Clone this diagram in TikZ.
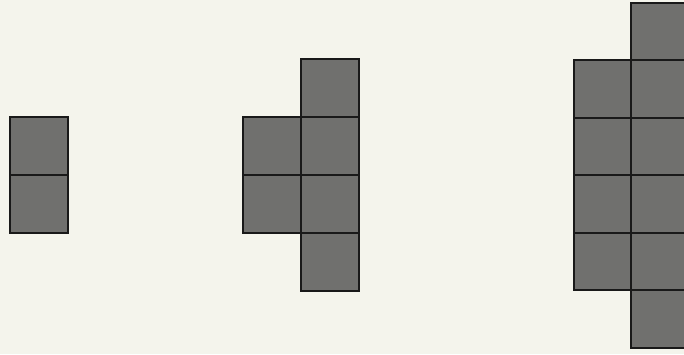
\documentclass[tikz,border=0pt]{standalone}
\begin{document}
\begin{tikzpicture}[x=1pt,y=-1pt,
  tile/.style={fill=tilegray, minimum width=58pt, minimum height=58pt, inner sep=0pt, outer sep=0pt, anchor=north west},
  tilesm/.style={tile, minimum width=57.5pt, minimum height=57.5pt},
  edge/.style={draw=black!90, line width=2pt}]
\definecolor{tilegray}{RGB}{112,112,110}
\definecolor{paper}{RGB}{244,244,236}
\useasboundingbox (0,0) rectangle (684,354);
\clip (0,0) rectangle (684,354);
\fill[paper] (0,0) rectangle (684,354);
% figure 1
\node[tile] (a1) at (10,117) {};
\node[tile] (a2) at (10,175) {};
% figure 2
\node[tile] (b1) at (301,59) {};
\node[tile] (b2) at (301,117) {};
\node[tile] (b3) at (301,175) {};
\node[tile] (b4) at (301,233) {};
\node[tile] (b5) at (243,117) {};
\node[tile] (b6) at (243,175) {};
% figure 3
\node[tilesm] (c1) at (631,2.5) {};
\node[tilesm] (c2) at (631,60) {};
\node[tilesm] (c3) at (631,117.5) {};
\node[tilesm] (c4) at (631,175) {};
\node[tilesm] (c5) at (631,232.5) {};
\node[tilesm] (c6) at (631,290) {};
\node[tilesm] (c7) at (573.5,60) {};
\node[tilesm] (c8) at (573.5,117.5) {};
\node[tilesm] (c9) at (573.5,175) {};
\node[tilesm] (c10) at (573.5,232.5) {};
\foreach \t in {a1,a2,b1,b2,b3,b4,b5,b6,c1,c2,c3,c4,c5,c6,c7,c8,c9,c10}
  \draw[edge] (\t.north west) rectangle (\t.south east);
\end{tikzpicture}
\end{document}
